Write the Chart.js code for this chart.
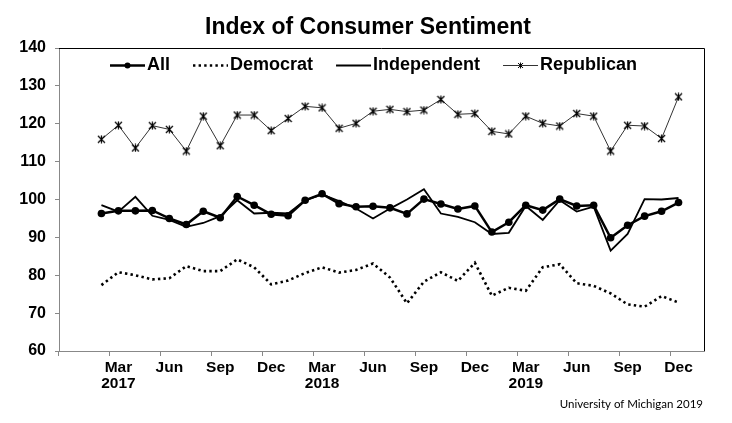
<!DOCTYPE html>
<html>
<head>
<meta charset="utf-8">
<title>Index of Consumer Sentiment</title>
<script src="https://cdn.jsdelivr.net/npm/chart.js@4"></script>
<style>
  html, body { margin: 0; padding: 0; background: #fff; }
  #wrap { width: 732px; height: 423px; }
</style>
</head>
<body>
<div id="wrap"><canvas id="sentiment" width="732" height="423"></canvas></div>
<script>
// Months on the axis (empty slots before Feb 2017 data and after Dec 2019)
const months = [
  'Dec 2016', 'Jan 2017', 'Feb 2017', 'Mar 2017', 'Apr 2017', 'May 2017', 'Jun 2017',
  'Jul 2017', 'Aug 2017', 'Sep 2017', 'Oct 2017', 'Nov 2017', 'Dec 2017',
  'Jan 2018', 'Feb 2018', 'Mar 2018', 'Apr 2018', 'May 2018', 'Jun 2018',
  'Jul 2018', 'Aug 2018', 'Sep 2018', 'Oct 2018', 'Nov 2018', 'Dec 2018',
  'Jan 2019', 'Feb 2019', 'Mar 2019', 'Apr 2019', 'May 2019', 'Jun 2019',
  'Jul 2019', 'Aug 2019', 'Sep 2019', 'Oct 2019', 'Nov 2019', 'Dec 2019',
  'Jan 2020'
];
const firstDataMonth = 'Feb 2017';

// Monthly values, Feb 2017 .. Dec 2019
const allValues = [
  96.3, 97.0, 97.0, 97.1, 95.0, 93.4, 96.9, 95.2, 100.8, 98.5, 96.1,
  95.7, 99.8, 101.5, 98.9, 98.1, 98.2, 97.8, 96.2, 100.1, 98.8, 97.5, 98.3,
  91.4, 94.0, 98.5, 97.2, 100.1, 98.3, 98.5, 89.9, 93.2, 95.6, 96.9, 99.2
];
const democratValues = [
  77.4, 80.8, 80.0, 78.9, 79.2, 82.4, 81.1, 81.1, 84.2, 82.1, 77.6,
  78.6, 80.6, 82.1, 80.7, 81.4, 83.1, 79.4, 72.6, 78.3, 80.8, 78.5, 83.3,
  74.6, 76.7, 75.9, 82.1, 82.9, 77.9, 77.2, 75.2, 72.3, 71.7, 74.5, 72.8
];
const independentValues = [
  98.5, 96.8, 100.7, 95.7, 94.6, 92.8, 93.8, 95.6, 99.8, 96.3, 96.5,
  96.3, 99.8, 101.3, 99.6, 97.6, 95.0, 97.6, 100.0, 102.7, 96.3, 95.4, 94.0,
  90.9, 91.2, 98.3, 94.6, 99.8, 96.8, 98.1, 86.5, 90.9, 100.1, 100.0, 100.4
];
const republicanValues = [
  115.9, 119.6, 113.6, 119.5, 118.5, 112.8, 122.0, 114.2, 122.3, 122.3, 118.2,
  121.4, 124.6, 124.2, 118.8, 120.1, 123.3, 123.8, 123.2, 123.6, 126.4, 122.5, 122.7,
  118.0, 117.3, 122.0, 120.1, 119.4, 122.7, 122.0, 112.8, 119.6, 119.4, 116.1, 127.1
];

// Tick labels and texts
const tickMonths = ['Mar', 'Jun', 'Sep', 'Dec'];
const yearMonth = 'Mar';
const titleText = 'Index of Consumer Sentiment';
const sourceNote = 'University of Michigan 2019';

const FONT = '"Liberation Sans", Arial, sans-serif';
const dataStart = months.indexOf(firstDataMonth);

// Place a series on the full month axis
function onAxis(values) {
  return months.map((_, i) => {
    const v = values[i - dataStart];
    return v === undefined ? null : v;
  });
}

// Asterisk marker (X with a vertical stroke)
function makeStarMarker(size, lw) {
  const c = document.createElement('canvas');
  c.width = size;
  c.height = size;
  const g = c.getContext('2d');
  g.strokeStyle = '#000';
  g.lineWidth = lw;
  const m = size / 2;
  g.beginPath();
  g.moveTo(1, 1); g.lineTo(size - 1, size - 1);
  g.moveTo(size - 1, 1); g.lineTo(1, size - 1);
  g.moveTo(m, 0.5); g.lineTo(m, size - 0.5);
  g.stroke();
  return c;
}
const starMarker = makeStarMarker(9, 1.2);
const starMarkerSmall = makeStarMarker(7, 1);

function isTickMonth(i) {
  const label = months[i];
  if (!label) return false;
  return tickMonths.includes(label.split(' ')[0]);
}

// Title, frame on top/right, in-plot legend and source note
const decorations = {
  id: 'decorations',
  afterDraw(chart) {
    const { ctx, chartArea: a } = chart;
    ctx.save();

    ctx.fillStyle = '#000';
    ctx.textAlign = 'center';
    ctx.textBaseline = 'middle';
    ctx.font = 'bold 23px ' + FONT;
    ctx.fillText(titleText, 368, 27.5);

    ctx.strokeStyle = '#000';
    ctx.lineWidth = 1;
    ctx.beginPath();
    ctx.moveTo(a.left, Math.round(a.top) + 0.5);
    ctx.lineTo(Math.round(a.right) + 0.5, Math.round(a.top) + 0.5);
    ctx.lineTo(Math.round(a.right) + 0.5, a.bottom);
    ctx.stroke();

    // legend
    const y = 65.5;
    let x = 110;
    ctx.textAlign = 'left';
    ctx.font = 'bold 18px ' + FONT;
    chart.data.datasets.forEach(ds => {
      ctx.save();
      ctx.strokeStyle = ds.borderColor;
      ctx.lineWidth = ds.borderWidth;
      ctx.setLineDash(ds.borderDash || []);
      ctx.beginPath();
      ctx.moveTo(x, y);
      ctx.lineTo(x + 35, y);
      ctx.stroke();
      ctx.restore();
      if (ds.label === 'All') {
        ctx.beginPath();
        ctx.arc(x + 17.5, y, 3, 0, Math.PI * 2);
        ctx.fill();
      } else if (ds.label === 'Republican') {
        ctx.drawImage(starMarkerSmall, x + 17.5 - 3.5, y - 3.5);
      }
      ctx.fillText(ds.label, x + 37, y);
      x += 37 + ctx.measureText(ds.label).width + 23;
    });

    // source
    ctx.font = '11.5px Lato, "Open Sans", sans-serif';
    ctx.textAlign = 'right';
    ctx.fillText(sourceNote, 703, 404);
    ctx.restore();
  }
};

const ctx = document.getElementById('sentiment').getContext('2d');
new Chart(ctx, {
  type: 'line',
  data: {
    labels: months,
    datasets: [
      {
        label: 'All',
        data: onAxis(allValues),
        borderColor: '#000',
        backgroundColor: '#000',
        borderWidth: 2.5,
        pointRadius: 3.8,
        pointBorderWidth: 0,
        pointBackgroundColor: '#000'
      },
      {
        label: 'Democrat',
        data: onAxis(democratValues),
        borderColor: '#000',
        borderWidth: 2.6,
        borderDash: [2.4, 3.2],
        pointRadius: 0
      },
      {
        label: 'Independent',
        data: onAxis(independentValues),
        borderColor: '#000',
        borderWidth: 1.8,
        pointRadius: 0
      },
      {
        label: 'Republican',
        data: onAxis(republicanValues),
        borderColor: '#333',
        borderWidth: 1,
        pointStyle: starMarker,
        pointRadius: 4.5
      }
    ]
  },
  options: {
    responsive: false,
    animation: false,
    layout: { padding: { left: 0, right: 28, top: 48, bottom: 0 } },
    plugins: {
      legend: { display: false },
      tooltip: { enabled: false },
      title: { display: false }
    },
    scales: {
      x: {
        offset: true,
        afterFit: scale => { scale.height = 72; },
        border: { display: true, color: '#888', width: 1 },
        grid: {
          offset: true,
          drawOnChartArea: false,
          drawTicks: true,
          tickLength: 5,
          color: c => isTickMonth(c.index) ? '#888' : 'rgba(0,0,0,0)'
        },
        ticks: {
          autoSkip: false,
          maxRotation: 0,
          padding: 3,
          color: '#000',
          font: { family: FONT, size: 15.5, weight: 'bold', lineHeight: 1.08 },
          callback: (value, i) => {
            if (i < dataStart) return '';
            const [m, yr] = months[i].split(' ');
            if (m === yearMonth) return [m, yr];
            return tickMonths.includes(m) ? m : '';
          }
        }
      },
      y: {
        min: 60,
        max: 140,
        afterFit: scale => { scale.width = 59; },
        border: { display: true, color: '#888', width: 1 },
        grid: {
          drawOnChartArea: false,
          drawTicks: true,
          tickLength: 4,
          color: '#888'
        },
        ticks: {
          stepSize: 10,
          padding: 9,
          color: '#000',
          font: { family: FONT, size: 16, weight: 'bold' }
        }
      }
    }
  },
  plugins: [decorations]
});
</script>
</body>
</html>
